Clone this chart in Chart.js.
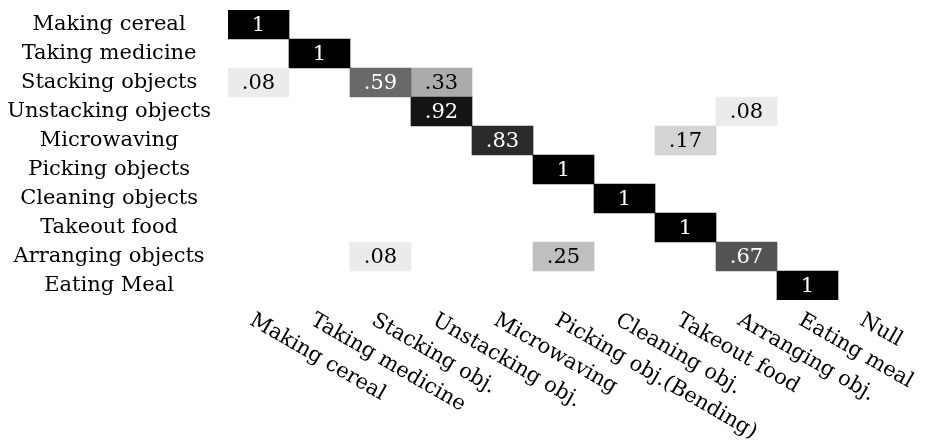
<!DOCTYPE html>
<html>
<head>
<meta charset="utf-8">
<script src="https://cdn.jsdelivr.net/npm/chart.js@4.4.1/dist/chart.umd.min.js"></script>
<style>
  html, body { margin: 0; padding: 0; background: #fff; }
</style>
</head>
<body>
<canvas id="confusion" width="927" height="443"></canvas>
<script>
// ground truth (rows) vs predicted (columns)
const rowLabels = [
    'Making cereal', 'Taking medicine', 'Stacking objects', 'Unstacking objects',
    'Microwaving', 'Picking objects', 'Cleaning objects', 'Takeout food',
    'Arranging objects', 'Eating Meal'
];
const colLabels = [
    'Making cereal', 'Taking medicine', 'Stacking obj.', 'Unstacking obj.',
    'Microwaving', 'Picking obj.(Bending)', 'Cleaning obj.', 'Takeout food',
    'Arranging obj.', 'Eating meal', 'Null'
];
const rates = [
    [1,   0, 0,   0,   0,   0,   0, 0,   0,   0, 0],
    [0,   1, 0,   0,   0,   0,   0, 0,   0,   0, 0],
    [.08, 0, .59, .33, 0,   0,   0, 0,   0,   0, 0],
    [0,   0, 0,   .92, 0,   0,   0, 0,   .08, 0, 0],
    [0,   0, 0,   0,   .83, 0,   0, .17, 0,   0, 0],
    [0,   0, 0,   0,   0,   1,   0, 0,   0,   0, 0],
    [0,   0, 0,   0,   0,   0,   1, 0,   0,   0, 0],
    [0,   0, 0,   0,   0,   0,   0, 1,   0,   0, 0],
    [0,   0, .08, 0,   0,   .25, 0, 0,   .67, 0, 0],
    [0,   0, 0,   0,   0,   0,   0, 0,   0,   1, 0]
];

const FONT = 'DejaVu Serif';
const SIZE = 21;

function grey(v) {
    const g = Math.round(255 * (1 - v));
    return `rgb(${g}, ${g}, ${g})`;
}

function fmt(v) {
    return v === 1 ? '1' : '.' + String(Math.round(v * 100)).padStart(2, '0');
}

// one dataset per predicted column, each cell is a floating bar spanning the column
const datasets = colLabels.map((name, c) => ({
    label: name,
    data: rowLabels.map((_, r) => rates[r][c] > 0 ? [c - 0.5, c + 0.5] : null),
    backgroundColor: ctx => grey(rates[ctx.dataIndex][c]),
    borderWidth: 0,
    barPercentage: 1,
    categoryPercentage: 1,
    grouped: false
}));

// numbers in the cells
const cellText = {
    id: 'cellText',
    afterDatasetsDraw(chart) {
        const ctx = chart.ctx;
        ctx.save();
        ctx.font = `${SIZE}px "${FONT}"`;
        ctx.textAlign = 'center';
        ctx.textBaseline = 'middle';
        chart.data.datasets.forEach((ds, c) => {
            chart.getDatasetMeta(c).data.forEach((bar, r) => {
                const v = rates[r][c];
                if (!v) return;
                const p = bar.getCenterPoint();
                ctx.fillStyle = v > 0.5 ? '#fff' : '#000';
                ctx.fillText(fmt(v), p.x, p.y + 1);
            });
        });
        ctx.restore();
    }
};

// slanted column labels under the grid
const colText = {
    id: 'colText',
    afterDraw(chart) {
        const ctx = chart.ctx;
        const x = chart.scales.x;
        const bottom = chart.chartArea.bottom;
        ctx.save();
        ctx.font = `${SIZE}px "${FONT}"`;
        ctx.fillStyle = '#000';
        ctx.textAlign = 'left';
        ctx.textBaseline = 'top';
        colLabels.forEach((name, i) => {
            ctx.save();
            ctx.translate(x.getPixelForValue(i) - 2, bottom + 10);
            ctx.rotate(Math.PI / 6);
            ctx.fillText(name, 0, 0);
            ctx.restore();
        });
        ctx.restore();
    }
};

new Chart(document.getElementById('confusion'), {
    type: 'bar',
    data: {
        labels: rowLabels,
        datasets: datasets
    },
    options: {
        indexAxis: 'y',
        responsive: false,
        animation: false,
        layout: {
            padding: { left: 0, top: 10, right: 28, bottom: 143 }
        },
        plugins: {
            legend: { display: false },
            tooltip: { enabled: false }
        },
        scales: {
            x: {
                type: 'linear',
                min: -0.5,
                max: 10.5,
                display: false
            },
            y: {
                grid: { display: false, drawTicks: false },
                border: { display: false },
                ticks: {
                    autoSkip: false,
                    color: '#000',
                    crossAlign: 'center',
                    padding: 17,
                    font: { family: FONT, size: SIZE }
                },
                afterFit(scale) {
                    scale.width = 228;
                    scale.paddingTop = 0;
                    scale.paddingBottom = 0;
                }
            }
        }
    },
    plugins: [cellText, colText]
});
</script>
</body>
</html>
